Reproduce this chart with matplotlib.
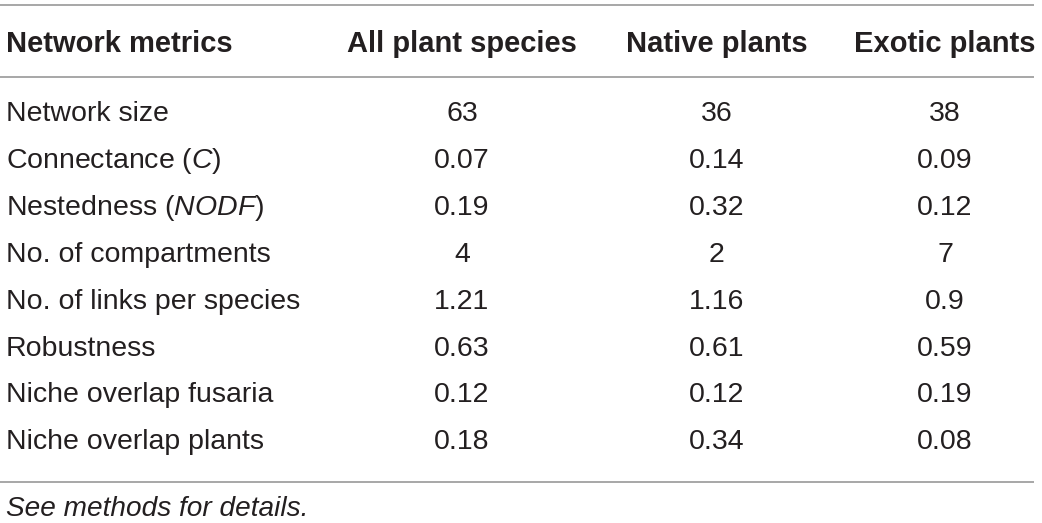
import matplotlib
matplotlib.use('Agg')
import matplotlib.pyplot as plt

# Table content
headers = ['Network metrics', 'All plant species', 'Native plants', 'Exotic plants']
metrics = ['Network size', 'Connectance ($\\mathit{C}$)', 'Nestedness ($\\mathit{NODF}$)',
           'No. of compartments', 'No. of links per species', 'Robustness',
           'Niche overlap fusaria', 'Niche overlap plants']
all_species = ['63', '0.07', '0.19', '4', '1.21', '0.63', '0.12', '0.18']
native = ['36', '0.14', '0.32', '2', '1.16', '0.61', '0.12', '0.34']
exotic = ['38', '0.09', '0.12', '7', '0.9', '0.59', '0.19', '0.08']
footnote = 'See methods for details.'

plt.rcParams['font.family'] = ['Liberation Sans', 'DejaVu Sans']
plt.rcParams['mathtext.fontset'] = 'custom'
plt.rcParams['mathtext.rm'] = 'Liberation Sans'
plt.rcParams['mathtext.it'] = 'Liberation Sans:italic'

W, H = 1042, 523
fig = plt.figure(figsize=(W / 100, H / 100), dpi=100)
ax = fig.add_axes([0, 0, 1, 1])
ax.set_xlim(0, W)
ax.set_ylim(H, 0)
ax.axis('off')

txt = '#231f20'
rule = '#a0a0a0'
fs = 20.5

# horizontal rules
for y in [5, 77, 482]:
    ax.plot([0, 1034], [y, y], color=rule, lw=1.3, solid_capstyle='butt')

col_x = [6, 462, 717, 945]
header_y = 44
row_y0, row_dy = 114, 46.9

for i, h in enumerate(headers):
    ax.text(col_x[i], header_y, h, fontsize=21, fontweight='bold', color=txt,
            ha='left' if i == 0 else 'center', va='center')

columns = [metrics, all_species, native, exotic]
for r in range(len(metrics)):
    y = row_y0 + r * row_dy
    for c, col in enumerate(columns):
        ax.text(col_x[c], y, col[r], fontsize=fs, color=txt,
                ha='left' if c == 0 else 'center', va='center')

ax.text(6, 509, footnote, fontsize=20.2, style='italic', color=txt, ha='left', va='center')

fig.savefig('out.png', dpi=100)
